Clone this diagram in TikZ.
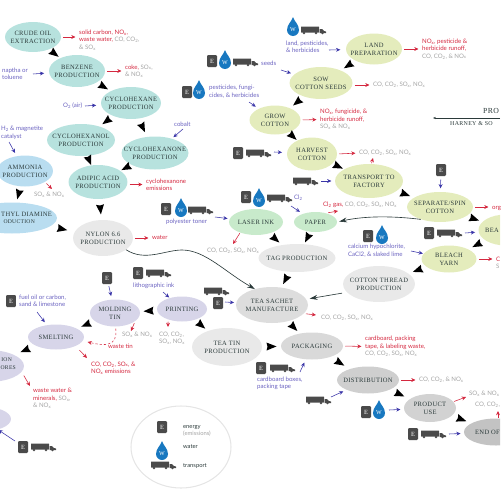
\documentclass[tikz,border=0pt]{standalone}
\usepackage{fontspec}
\setmainfont{Lato}
\newfontfamily\stagefont[LetterSpace=5]{Liberation Serif}
\usetikzlibrary{shapes.geometric, arrows.meta, positioning, calc, decorations.markings}
\definecolor{tealfill}{HTML}{B7E2DE}
\definecolor{bluefill}{HTML}{B9DDF0}
\definecolor{limefill}{HTML}{E4ECBC}
\definecolor{mintfill}{HTML}{C8EACB}
\definecolor{lilacfill}{HTML}{D7D5E9}
\definecolor{greyfill}{HTML}{E9E9E9}
\definecolor{inkdark}{HTML}{2B3A3A}
\definecolor{outred}{HTML}{D4283F}
\definecolor{outgrey}{HTML}{A3A3A3}
\definecolor{inblue}{HTML}{3A35A8}
\definecolor{intext}{HTML}{6A62C0}
\definecolor{waterblue}{HTML}{1878C0}
\definecolor{iconc}{HTML}{4A4A4A}
\newcommand{\nox}{NO\textsubscript{x}}
\newcommand{\sox}{SO\textsubscript{x}}
\newcommand{\cotwo}{CO\textsubscript{2}}
\newcommand{\rd}[1]{\textcolor{outred}{#1}}
\tikzset{
  stage/.style={ellipse, fill=#1, inner xsep=-12pt, inner ysep=-4pt, align=center,
                text=inkdark, font=\stagefont\fontsize{9.3}{11.4}\selectfont},
  stagetext/.style={inner sep=0pt, text=inkdark, font=\stagefont\fontsize{9.3}{11.4}\selectfont},
  edgetext/.style={inner sep=0pt, text=inkdark, font=\stagefont\fontsize{8}{10}\selectfont},
  outlbl/.style={anchor=west, inner sep=0pt, align=left, text=outgrey,
                 font=\fontsize{8.7}{10.6}\selectfont},
  inlbl/.style={anchor=west, inner sep=0pt, align=left, text=intext,
                font=\fontsize{8.7}{10.6}\selectfont},
  keylbl/.style={anchor=west, inner sep=0pt, align=left, text=inkdark,
                 font=\fontsize{8.3}{10}\selectfont},
  ebox/.style={fill=iconc, rounded corners=1.5pt, minimum width=0.5cm, minimum height=0.6cm,
               inner sep=0pt, text=white, font=\stagefont\fontsize{9}{9}\selectfont},
  flow/.style={draw=none, postaction={decorate}, decoration={markings,
               mark=at position 0.5 with {\fill[black] (-5,-4) -- (5,0) -- (-5,4) -- (-4,0) -- cycle;}}},
  emit/.style={-{Stealth[length=6pt,width=5.5pt]}, outred, line width=0.8pt, shorten <=3pt, shorten >=5pt},
  feed/.style={-{Stealth[length=6pt,width=5.5pt]}, inblue, line width=0.8pt, shorten >=5pt},
  longarr/.style={-{Stealth[length=11pt,width=7pt]}, inkdark, line width=0.9pt},
  truck/.pic={
    \fill[iconc, rounded corners=0.5pt] (0,-3.5) rectangle (18,2.5);
    \fill[iconc] (18.5,-1) -- (21,-1) -- (23,1) -- (25,1.5) -- (25,3) -- (18.5,3) -- cycle;
    \fill[iconc] (3,3) circle (1.4) (15,3) circle (1.4) (21.5,3) circle (1.4);
  },
  drop/.pic={
    \fill[waterblue] (0,-10) .. controls (1,-6) and (6,-2.5) .. (6,3)
      .. controls (6,6.5) and (3,9) .. (0,9) .. controls (-3,9) and (-6,6.5) .. (-6,3)
      .. controls (-6,-2.5) and (-1,-6) .. (0,-10) -- cycle;
    \node[text=white, inner sep=0pt, font=\stagefont\fontsize{8.5}{9}\selectfont] (-w) at (0,3) {W};
  },
}
\begin{document}
\begin{tikzpicture}[x=0.05cm, y=-0.05cm]
  \useasboundingbox (0,0) rectangle (500,500);
  \clip (0,0) rectangle (500,500);

  \node[stage=tealfill, minimum width=2.8cm, minimum height=1.5cm] (crude) at (33,37) {CRUDE OIL\\EXTRACTION};
  \node[stage=tealfill, minimum width=2.8cm, minimum height=1.6cm] (benzene) at (77,71) {BENZENE\\PRODUCTION};
  \node[stage=tealfill, minimum width=3cm, minimum height=1.6cm] (hexane) at (131,103) {CYCLOHEXANE\\PRODUCTION};
  \node[stage=tealfill, minimum width=3.4cm, minimum height=1.6cm] (hexanol) at (81,140) {CYCLOHEXANOL\\PRODUCTION};
  \node[stage=tealfill, minimum width=3.35cm, minimum height=1.65cm] (hexanone) at (155,153) {CYCLOHEXANONE\\PRODUCTION};
  \node[stage=tealfill, minimum width=2.95cm, minimum height=1.7cm] (adipic) at (98,182) {ADIPIC ACID\\PRODUCTION};
  \node[stage=bluefill, minimum width=2.8cm, minimum height=1.55cm] (ammonia) at (25,171) {AMMONIA\\PRODUCTION};
  \node[stage=bluefill, minimum width=4.5cm, minimum height=1.55cm] (diamine) at (12,218) {};
  \node[stagetext, anchor=east] (diamineone) at (52,214) {THYL DIAMINE};
  \node[edgetext, anchor=east] (diaminetwo) at (35,222) {ODUCTION};
  \node[stage=greyfill, minimum width=3cm, minimum height=1.8cm] (nylon) at (103,238) {NYLON 6.6\\PRODUCTION};

  \node[stage=limefill, minimum width=2.8cm, minimum height=1.55cm] (land) at (374,49) {LAND\\PREPARATION};
  \node[stage=limefill, minimum width=3.15cm, minimum height=1.6cm] (sow) at (321,83) {SOW\\COTTON SEEDS};
  \node[stage=limefill, minimum width=2.55cm, minimum height=1.45cm] (grow) at (275,120) {GROW\\COTTON};
  \node[stage=limefill, minimum width=2.5cm, minimum height=1.65cm] (harvest) at (312,154) {HARVEST\\COTTON};
  \node[stage=limefill, minimum width=3.4cm, minimum height=1.7cm] (transport) at (369,181) {TRANSPORT TO\\FACTORY};
  \node[stage=limefill, minimum width=3.3cm, minimum height=1.5cm] (separate) at (440,207) {SEPARATE/SPIN\\COTTON};
  \node[stage=limefill, minimum width=2.75cm, minimum height=1.55cm] (beam) at (506,230) {};
  \node[stagetext, anchor=west] (beamtext) at (485,230) {BEA};
  \node[stage=limefill, minimum width=2.75cm, minimum height=1.35cm] (bleach) at (449,259) {BLEACH\\YARN};
  \node[stage=mintfill, minimum width=2.7cm, minimum height=1.3cm] (laser) at (256,222) {LASER INK};
  \node[stage=mintfill, minimum width=2.15cm, minimum height=1cm] (paper) at (315.5,222) {PAPER};

  \node[stage=greyfill, minimum width=3.85cm, minimum height=1.4cm] (tag) at (297,258) {TAG PRODUCTION};
  \node[stage=greyfill, minimum width=3.6cm, minimum height=1.8cm] (thread) at (379,284) {COTTON THREAD\\PRODUCTION};
  \node[stage=greyfill, minimum width=3.5cm, minimum height=1.9cm] (teatin) at (227,347) {TEA TIN\\PRODUCTION};
  \node[stage=gray!27, minimum width=3.6cm, minimum height=1.8cm] (sachet) at (272,305) {TEA SACHET\\MANUFACTURE};
  \node[stage=gray!30, minimum width=3.1cm, minimum height=1.35cm] (packaging) at (312,346) {PACKAGING};
  \node[stage=gray!38, minimum width=3.1cm, minimum height=1.35cm] (distribution) at (368,380) {DISTRIBUTION};
  \node[stage=gray!35, minimum width=2.6cm, minimum height=1.4cm] (product) at (430,408) {PRODUCT\\USE};
  \node[stage=gray!47, minimum width=3.2cm, minimum height=1.35cm] (endlife) at (496,432) {};
  \node[stagetext, anchor=west] (endtext) at (475,432) {END OF};

  \node[stage=lilacfill, minimum width=2.5cm, minimum height=1.35cm] (molding) at (115,313) {MOLDING\\TIN};
  \node[stage=lilacfill, minimum width=2.5cm, minimum height=1.25cm] (printing) at (182,309) {PRINTING};
  \node[stage=lilacfill, minimum width=2.8cm, minimum height=1.25cm] (smelting) at (56,337) {SMELTING};
  \node[stage=lilacfill, minimum width=3.6cm, minimum height=1.6cm] (ores) at (-12,366) {};
  \node[edgetext, anchor=east] (oresone) at (12,360) {ION};
  \node[edgetext, anchor=east] (orestwo) at (16,368) {ORES};
  \node[stage=lilacfill, minimum width=2.9cm, minimum height=1.25cm] (mining) at (-18,419) {};

  \draw[flow] (crude) -- (benzene);
  \draw[flow] (benzene) -- (hexane);
  \draw[flow] (hexane) -- (hexanol);
  \draw[flow] (hexane) -- (hexanone);
  \draw[flow] (hexanol) -- (adipic);
  \draw[flow] (hexanone) -- (adipic);
  \draw[flow] (adipic) -- (nylon);
  \draw[flow] (ammonia) -- (diamine);
  \draw[flow] (diamine) -- (nylon);
  \draw[flow] (land) -- (sow);
  \draw[flow] (sow) -- (grow);
  \draw[flow] (grow) -- (harvest);
  \draw[flow] (harvest) -- (transport);
  \draw[flow] (transport) -- (separate);
  \draw[flow] (separate) -- (beam);
  \draw[flow] (beam) -- (bleach);
  \draw[flow] (bleach) -- (thread);
  \draw[flow] (laser) -- (tag);
  \draw[flow] (paper) -- (tag);
  \draw[flow] (tag) -- (sachet);
  \draw[flow] (sachet) -- (packaging);
  \draw[flow] (teatin) -- (packaging);
  \draw[flow] (packaging) -- (distribution);
  \draw[flow] (distribution) -- (product);
  \draw[flow] (product) -- (endlife);
  \draw[flow] (printing) -- (molding);
  \draw[flow] (printing) -- (teatin);
  \draw[flow] (molding) -- (smelting);
  \draw[flow] (smelting) -- (ores);

  \draw[longarr] (nylon.-27) .. controls (145,262) and (165,250) .. (182,250)
    .. controls (205,250) and (225,272) .. (sachet.137);
  \draw[longarr, shorten <=1pt, shorten >=5pt] (thread.west |- 0,293) -- (sachet);
  \draw[longarr, shorten >=3pt] (separate.213) .. controls (385,215) and (360,217) .. (paper.east);

  \node[outlbl] (crudeout) at (79,40) {\rd{solid carbon, \nox,}\\\rd{waste water,} CO, \cotwo,\\\& \sox};
  \node[outlbl] (benzeneout) at (125,71) {\rd{coke,} \sox,\\\& \nox};
  \node[outlbl] (adipicout) at (146,184.5) {\rd{cyclohexanone}\\\rd{emissions}};
  \node[outlbl] (nylonout) at (152,237) {\rd{water}};
  \node[outlbl] (ammoniaout) at (34,195) {\sox{} \& \nox};
  \node[outlbl] (landout) at (422,49) {\rd{\nox, pesticide \&}\\\rd{herbicide runoff,}\\CO, \cotwo, \& \nox};
  \node[outlbl] (sowout) at (373,85) {CO, \cotwo, \sox, \nox};
  \node[outlbl] (growout) at (320,119.5) {\rd{\nox, fungicide, \&}\\\rd{herbicide runoff,}\\\sox{} \& \nox};
  \node[outlbl] (harvestout) at (359,153) {CO, \cotwo, \sox, \nox};
  \node[outlbl] (paperout) at (323,205) {\rd{Cl\textsubscript{2} gas,} CO, \cotwo, \sox, \nox};
  \node[outlbl] (laserout) at (207,251) {CO, \cotwo, \sox, \nox};
  \node[outlbl] (sachetout) at (321,318) {CO, \cotwo, \sox, \nox};
  \node[outlbl] (separateout) at (492,208) {\rd{org}};
  \node[outlbl] (bleachout) at (496,263) {\rd{C}\\S};
  \node[outlbl] (moldingout) at (122,335) {\sox{} \& \nox};
  \node[outlbl] (wastetin) at (108,346) {\rd{waste tin}};
  \node[outlbl] (printingout) at (159,338) {CO, \cotwo,\\\sox, \nox};
  \node[outlbl] (smeltingout) at (91,368) {\rd{CO, \cotwo, \sox, \&}\\\rd{\nox{} emissions}};
  \node[outlbl] (oresout) at (33,398.5) {\rd{waste water \&}\\\rd{minerals,} \sox,\\\& \nox};
  \node[outlbl] (packagingout) at (365,346.5) {\rd{cardboard, packing}\\\rd{tape, \& labeling waste,}\\CO, \cotwo, \sox, \nox};
  \node[outlbl] (distributionout) at (419,380) {CO, \cotwo, \& \nox};
  \node[outlbl] (productout) at (469,394) {\sox{} \& \nox};
  \node[outlbl] (endout) at (475,405) {CO, \cotwo,};

  \coordinate (ammoniatip) at (52,189);
  \coordinate (transporttip) at (373,158);
  \coordinate (papertip) at (338,211);
  \coordinate (lasertip) at (233,244);
  \coordinate (sachettip) at (316,315);
  \coordinate (moldingtip) at (131,331);
  \coordinate (printingtip) at (168,327);
  \coordinate (smeltingtip) at (87,358);
  \coordinate (orestip) at (30,386);
  \coordinate (producttip) at (466,397);
  \coordinate (endtip) at (498,411);

  \draw[emit] (crude.east) -- (crudeout.west |- crude.east);
  \draw[emit] (benzene.east) -- (benzeneout.west);
  \draw[emit] (adipicout.west -| adipic.east) -- (adipicout.west);
  \draw[emit] (nylon.east) -- (nylon.east -| nylonout.west);
  \draw[emit] (land.east) -- (landout.west);
  \draw[emit] (sowout.west -| sow.east) -- (sowout.west);
  \draw[emit] (grow.east) -- (growout.west);
  \draw[emit] (harvest.east) -- (harvestout.west);
  \draw[emit] (separate.east) -- (separate.east -| separateout.west);
  \draw[emit] (bleach.east) -- (bleach.east -| bleachout.west);
  \draw[emit] (packaging.east) -- (packagingout.west);
  \draw[emit] (distribution.east) -- (distributionout.west);
  \draw[emit, shorten >=0pt] (ammonia.-29) -- (ammoniatip);
  \draw[emit, shorten >=0pt, shorten <=1pt] (transport.82) -- (transporttip);
  \draw[emit, shorten >=0pt] (paper.40) -- (papertip);
  \draw[emit, shorten >=0pt, shorten <=1pt] (laser.-146) -- (lasertip);
  \draw[emit, shorten >=0pt] (sachet.-15) -- (sachettip);
  \draw[emit, shorten >=0pt] (molding.-22) -- (moldingtip);
  \draw[emit, shorten >=0pt] (printing.217) -- (printingtip);
  \draw[emit, shorten >=0pt, shorten <=8pt] (smelting.-25) -- (smeltingtip);
  \draw[emit, shorten >=0pt, shorten <=6pt] (ores.-10) -- (orestip);
  \draw[emit, shorten >=0pt, shorten <=1pt] (product.15) -- (producttip);
  \draw[emit, shorten >=0pt, shorten <=1pt] (endlife.north -| endtip) -- (endtip);
  \draw[emit, dashed, shorten >=7pt] (molding.-88) .. controls (118,347) and (104,346) .. (smelting.-8);

  \node[inlbl] (naptha) at (2,74) {naptha or\\toluene};
  \node[inlbl] (oxygen) at (63,106) {O\textsubscript{2} (air)};
  \node[inlbl] (hydrogen) at (1,133) {H\textsubscript{2} \& magnetite\\catalyst};
  \node[inlbl] (cobalt) at (174,124) {cobalt};
  \node[inlbl] (landin) at (286,47) {land, pesticides,\\\& herbicides};
  \node[inlbl] (seeds) at (261,63) {seeds};
  \node[inlbl] (growin) at (209,91.5) {pesticides, fungi-\\cides, \& herbicides};
  \node[inlbl] (bleachin) at (348,250.5) {calcium hypochlorite,\\CaCl2, \& slaked lime};
  \node[inlbl] (toner) at (166,222) {polyester toner};
  \node[inlbl] (chlorine) at (294,198) {Cl\textsubscript{2}};
  \node[inlbl] (litho) at (133,286) {lithographic ink};
  \node[inlbl] (fuel) at (19,301) {fuel oil or carbon,\\sand \& limestone};
  \node[inlbl] (boxes) at (257,383.5) {cardboard boxes,\\packing tape};

  \node[ebox] (eseeds) at (212,61) {E};
  \pic (wseeds) at (225,60) {drop};
  \pic at (233,62) {truck};
  \pic (wland) at (293,27) {drop};
  \pic at (301,30) {truck};
  \node[ebox] (egrow) at (187,92) {E};
  \pic (wgrow) at (199,90) {drop};
  \node[ebox] (eharvest) at (238,153) {E};
  \pic at (246,153) {truck};
  \pic at (293,181) {truck};
  \node[ebox] (eseparate) at (441,170) {E};
  \node[ebox] (ebeam) at (429,233) {E};
  \pic at (437,233) {truck};
  \node[ebox] (ebleach) at (368,236) {E};
  \pic (wbleach) at (382,235) {drop};
  \node[ebox] (etoner) at (166,209) {E};
  \pic (wtoner) at (181,208) {drop};
  \pic at (188,210) {truck};
  \node[ebox] (epaper) at (246,197) {E};
  \pic (wpaper) at (259,198) {drop};
  \pic at (267,198) {truck};
  \pic at (204,291) {truck};
  \node[ebox] (esachet) at (218,303) {E};
  \node[ebox] (emolding) at (107,278) {E};
  \node[ebox] (eprinting) at (138,273) {E};
  \pic at (146,273) {truck};
  \node[ebox] (esmelting) at (11,301) {E};
  \node[ebox] (emining) at (23,447) {E};
  \pic at (31,447) {truck};
  \node[ebox] (epackaging) at (261,368) {E};
  \pic at (270,368) {truck};
  \pic at (306,400) {truck};
  \node[ebox] (eproduct) at (366,412) {E};
  \pic (wproduct) at (379,410) {drop};
  \node[ebox] (eend) at (413,434) {E};
  \pic at (421,434) {truck};

  \coordinate (napthafrom) at (33,74);
  \coordinate (oxygenfrom) at (85,106);
  \coordinate (hydrogenfrom) at (9,142);
  \coordinate (cobaltfrom) at (183,129);
  \coordinate (landfrom) at (329,50);
  \coordinate (seedsfrom) at (281,70);
  \coordinate (growfrom) at (249,102);
  \coordinate (harvestfrom) at (274,152);
  \coordinate (transportfrom) at (321,181);
  \coordinate (beamfrom) at (465,233);
  \coordinate (bleachfrom) at (411,251);
  \coordinate (laserfrom) at (215,217);
  \coordinate (paperfrom) at (291,206);
  \coordinate (sachetfrom) at (225,302);
  \coordinate (printingfrom) at (163,292);
  \coordinate (smeltingfrom) at (37,312);
  \coordinate (miningfrom) at (15,441);
  \coordinate (packagingfrom) at (300,372);
  \coordinate (distributionfrom) at (331,397);
  \coordinate (productfrom) at (389,410);
  \coordinate (endfrom) at (449,434);

  \draw[feed, shorten >=7pt] (napthafrom) -- (benzene);
  \draw[feed, shorten >=7pt] (oxygenfrom) -- (hexane);
  \draw[feed] (hydrogenfrom) -- (ammonia);
  \draw[feed, shorten >=3pt] (cobaltfrom) -- (hexanone);
  \draw[feed, shorten >=8pt] (landfrom) -- (land);
  \draw[feed] (seedsfrom) -- (sow);
  \draw[feed] (growfrom) -- (grow);
  \draw[feed, shorten >=7pt] (harvestfrom) -- (harvest);
  \draw[feed] (transportfrom) -- (transport);
  \draw[feed, shorten <=5pt] (eseparate) -- (separate);
  \draw[feed] (beamfrom) -- (beam);
  \draw[feed, shorten >=1pt] (bleachfrom) -- (bleach);
  \draw[feed, shorten >=3pt] (laserfrom) -- (laser);
  \draw[feed] (paperfrom) -- (paper);
  \draw[feed, shorten >=3pt] (sachetfrom) -- (sachet);
  \draw[feed, shorten <=3pt] (emolding) -- (molding);
  \draw[feed, shorten >=1pt] (printingfrom) -- (printing);
  \draw[feed] (smeltingfrom) -- (smelting);
  \draw[feed, shorten >=1pt] (miningfrom) -- (mining);
  \draw[feed] (packagingfrom) -- (packaging);
  \draw[feed] (distributionfrom) -- (distribution);
  \draw[feed] (productfrom) -- (product);
  \draw[feed] (endfrom) -- (endlife);

  \node[draw=gray!20, line width=1.5pt, ellipse, minimum width=5cm, minimum height=4.1cm, inner sep=0pt] (legend) at (181,447) {};
  \node[ebox] (ekey) at (162,427) {E};
  \pic (wkey) at (162,451) {drop};
  \pic at (151,465) {truck};
  \node[keylbl] (energykey) at (183,430.5) {energy\\\textcolor{outgrey}{(emissions)}};
  \node[keylbl] (waterkey) at (183,447) {water};
  \node[keylbl] (transportkey) at (183,466) {transport};

  \node[anchor=west, inner sep=0pt, text=inkdark, font=\stagefont\fontsize{11}{14}\selectfont] (title) at (483,111) {PRO};
  \node[anchor=west, inner sep=0pt, text=inkdark, font=\stagefont\fontsize{8.5}{10}\selectfont] (subtitle) at (450,124) {HARNEY \& SO};
  \coordinate (ruleend) at (500,118);
  \coordinate (rulestart) at (433,118);
  \draw[-{Stealth[length=4pt,width=3pt]}, inkdark, line width=0.7pt] (ruleend) -- (rulestart);
\end{tikzpicture}
\end{document}
